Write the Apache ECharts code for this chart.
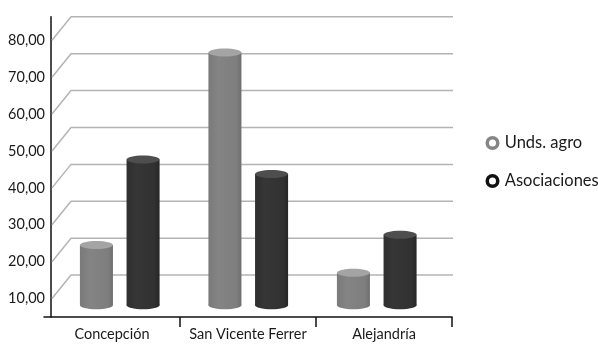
<!DOCTYPE html>
<html>
<head>
<meta charset="utf-8">
<script src="https://cdn.jsdelivr.net/npm/echarts@6/dist/echarts.min.js"></script>
<style>
html,body{margin:0;padding:0;background:#fff;}
#chart{width:598px;height:344px;}
</style>
</head>
<body>
<div id="chart"></div>
<script>
// ---- data ----
const categories = ['Concepción', 'San Vicente Ferrer', 'Alejandría'];
const seriesNames = ['Unds. agro', 'Asociaciones'];
const undsAgro = [21.3, 73.5, 13.8];
const asociaciones = [44.5, 40.6, 24.1];
const yTicks = [10, 20, 30, 40, 50, 60, 70, 80];
const yMin = 5, yMax = 86.4;

// ---- styling ----
const FONT = 'Lato';
const DEPTH_DX = 19, DEPTH_DY = 23.5;

const chart = echarts.init(document.getElementById('chart'), null, {renderer: 'canvas'});

function fmt(v) { return v.toFixed(2).replace('.', ','); }

function cylinder(offsetFrac, bodyStops, topColor) {
  return function (params, api) {
    const cat = api.value(0), v = api.value(1);
    const top = api.coord([cat, v]);
    const base = api.coord([cat, yMin]);
    const bandW = api.size([1, 0])[0];
    const w = bandW * 0.257;
    const cx = top[0] + bandW * offsetFrac;
    const rx = w / 2, ry = 4;
    const grad = new echarts.graphic.LinearGradient(0, 0, 1, 0, bodyStops);
    return {
      type: 'group',
      children: [
        {type: 'ellipse', shape: {cx: cx, cy: base[1], rx: rx, ry: ry}, style: {fill: grad}},
        {type: 'rect', shape: {x: cx - rx, y: top[1], width: w, height: base[1] - top[1]}, style: {fill: grad}},
        {type: 'ellipse', shape: {cx: cx, cy: top[1], rx: rx, ry: ry}, style: {fill: topColor}}
      ]
    };
  };
}

const option = {
  backgroundColor: '#ffffff',
  animation: false,
  legend: {
    orient: 'vertical',
    left: 485.5,
    top: 134,
    padding: 0,
    itemGap: 20,
    itemWidth: 10.5,
    itemHeight: 10.5,
    icon: 'circle',
    textStyle: {fontFamily: FONT, fontSize: 16.5, color: '#1a1a1a', lineHeight: 18, padding: [0, 0, 0, 2]},
    data: [
      {name: seriesNames[0], itemStyle: {color: '#ffffff', borderColor: '#858585', borderWidth: 3.5}},
      {name: seriesNames[1], itemStyle: {color: '#ffffff', borderColor: '#111111', borderWidth: 3.5}}
    ]
  },
  grid: [
    // front wall: y axis + gridlines
    {left: 51, right: 145, top: 16.7, bottom: 27},
    // front floor edge: x axis
    {left: 44, right: 146, top: 16.7, bottom: 27},
    // mid-depth plane: bars
    {left: 55.5, width: 385.5, top: 16.7 - DEPTH_DY / 2, bottom: 27 + DEPTH_DY / 2}
  ],
  xAxis: [
    {gridIndex: 0, type: 'value', min: 0, max: 1, show: false},
    {
      gridIndex: 1, type: 'category', data: categories,
      axisLine: {lineStyle: {color: '#111', width: 1.5}},
      axisTick: {show: true, length: 10, lineStyle: {color: '#111', width: 1.5},
        interval: function (i) { return i !== 0; }},
      axisLabel: {fontFamily: FONT, fontSize: 14.5, color: '#1a1a1a', margin: 10, interval: 0}
    },
    {gridIndex: 2, type: 'category', data: categories, show: false}
  ],
  yAxis: [
    {
      gridIndex: 0, type: 'value', min: yMin, max: yMax,
      axisLine: {show: true, lineStyle: {color: '#111', width: 1.5}},
      axisTick: {show: false},
      splitLine: {show: false},
      axisLabel: {fontFamily: FONT, fontSize: 14.5, color: '#1a1a1a', margin: 6,
        customValues: yTicks, formatter: function (v) { return fmt(v); }}
    },
    {gridIndex: 1, type: 'value', min: yMin, max: yMax, show: false},
    {gridIndex: 2, type: 'value', min: yMin, max: yMax, show: false}
  ],
  series: [
    {
      type: 'custom', name: 'grid', xAxisIndex: 0, yAxisIndex: 0, z: 1, silent: true,
      data: yTicks.map(function (v) { return [0, v]; }),
      renderItem: function (params, api) {
        const cs = params.coordSys;
        const y = api.coord([0, api.value(1)])[1];
        const x0 = cs.x + 1, xEnd = cs.x + cs.width;
        return {
          type: 'polyline',
          shape: {points: [[x0, y], [x0 + DEPTH_DX, y - DEPTH_DY], [xEnd, y - DEPTH_DY]]},
          style: {stroke: '#b4b4b4', lineWidth: 1.5, fill: null}
        };
      }
    },
    {
      type: 'custom', name: seriesNames[0], xAxisIndex: 2, yAxisIndex: 2, z: 3,
      itemStyle: {color: '#858585'},
      data: undsAgro.map(function (v, i) { return [i, v]; }),
      renderItem: cylinder(-0.1815, [
        {offset: 0, color: '#7a7a7a'}, {offset: 0.3, color: '#848484'},
        {offset: 0.85, color: '#7e7e7e'}, {offset: 1, color: '#6e6e6e'}], '#a4a4a4')
    },
    {
      type: 'custom', name: seriesNames[1], xAxisIndex: 2, yAxisIndex: 2, z: 3,
      itemStyle: {color: '#111111'},
      data: asociaciones.map(function (v, i) { return [i, v]; }),
      renderItem: cylinder(0.1815, [
        {offset: 0, color: '#2e2e2e'}, {offset: 0.3, color: '#363636'},
        {offset: 0.85, color: '#313131'}, {offset: 1, color: '#262626'}], '#4e4e4e')
    }
  ]
};
chart.setOption(option);
</script>
</body>
</html>
